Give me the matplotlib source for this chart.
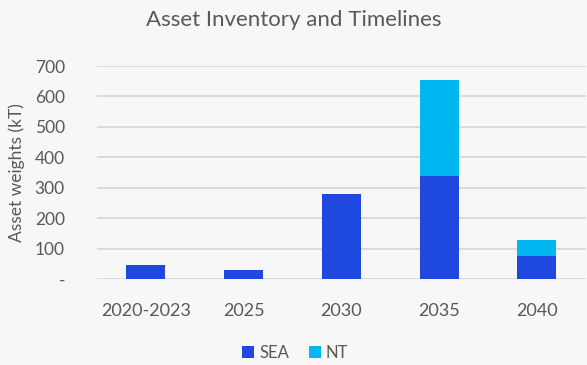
import matplotlib.pyplot as plt
import numpy as np

plt.rcParams['font.family'] = ['Lato', 'DejaVu Sans']

categories = ["2020-2023", "2025", "2030", "2035", "2040"]
sea = [46, 30, 280, 338, 77]
nt = [0, 0, 0, 317, 51]
yticks = [0, 100, 200, 300, 400, 500, 600, 700]
ytick_labels = ["-", "100", "200", "300", "400", "500", "600", "700"]

bg = "#F7F7F7"
text_col = "#595959"

fig = plt.figure(figsize=(5.87, 3.65), dpi=100, facecolor=bg)
ax = fig.add_axes([0.165, 0.2356, 0.833, 0.5834], facecolor=bg)

x = np.arange(len(categories))
ax.bar(x, sea, width=0.4, color="#1F48E0", label="SEA", zorder=3)
ax.bar(x, nt, width=0.4, bottom=sea, color="#00B7F1", label="NT", zorder=3)

ax.set_xlim(-0.5, len(categories) - 0.5)
ax.set_ylim(0, 700)
ax.set_yticks(yticks)
ax.set_yticklabels(ytick_labels)
ax.set_xticks(x)
ax.set_xticklabels(categories)
ax.grid(axis="y", color="#D9D9D9", linewidth=1.3, zorder=0)
for s in ax.spines.values():
    s.set_visible(False)
ax.tick_params(axis="x", length=0, labelsize=13, colors=text_col, pad=17)
ax.tick_params(axis="y", length=0, labelsize=12.5, colors=text_col, pad=23)

ax.set_ylabel("Asset weights (kT)", fontsize=12.5, color=text_col, labelpad=7)
fig.text(0.5, 0.945, "Asset Inventory and Timelines", ha="center", va="center",
         fontsize=16, color=text_col)

fig.legend(loc="center", bbox_to_anchor=(0.503, 0.033), ncol=2, frameon=False,
           fontsize=12, labelcolor=text_col, handlelength=0.7, handleheight=0.7,
           handletextpad=0.3, columnspacing=1.2)

plt.savefig("out.png", dpi=100, facecolor=bg)
